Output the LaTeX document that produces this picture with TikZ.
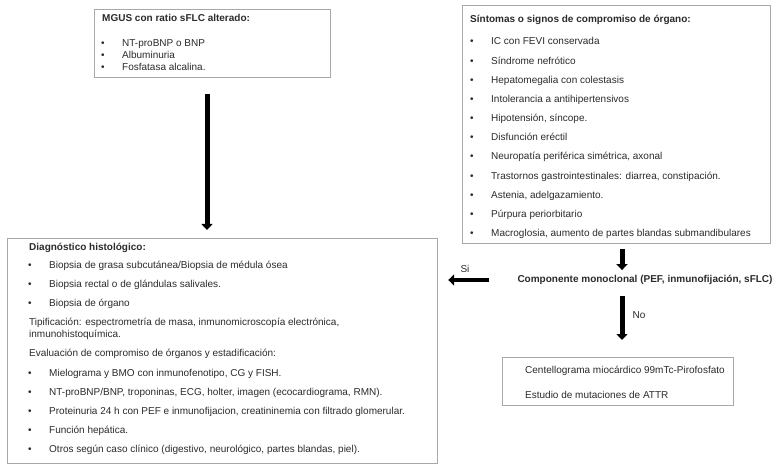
\documentclass[tikz,border=0pt]{standalone}
\usepackage{fontspec}
\setmainfont{Liberation Sans}
\usetikzlibrary{arrows.meta}
\definecolor{txt}{HTML}{2B2B2B}
\definecolor{frame}{HTML}{A8A8A8}
\begin{document}
\begin{tikzpicture}[x=1pt,y=-1pt,
  box/.style={draw=frame,line width=1.2pt,rectangle,inner sep=0pt,anchor=north west},
  t/.style={anchor=base west,inner sep=0pt,font=\fontsize{10}{12}\selectfont,text=txt},
  tb/.style={t,font=\fontsize{10}{12}\selectfont\bfseries},
  bigarrow/.style={draw=black,line width=5pt,-{Triangle[width=11pt,length=6pt]}},
]
\useasboundingbox[fill=white] (0,0) rectangle (777,465);

% boxes
\node[box,minimum width=236pt,minimum height=68pt] (mgus) at (94,9) {};
\node[box,minimum width=308pt,minimum height=238pt] (sym) at (462,5) {};
\node[box,minimum width=430pt,minimum height=225pt] (diag) at (7,238) {};
\node[box,minimum width=231pt,minimum height=48pt] (atr) at (502,357) {};

% MGUS box text
\node[tb] (m0) at (102,21.5) {MGUS con ratio sFLC alterado:};
\foreach \y/\s [count=\i] in {43/NT-proBNP o BNP,55/Albuminuria,67/Fosfatasa alcalina.}{
  \node[t] (mb\i) at (101,\y+3.5) {\textbullet};
  \node[t] (mt\i) at (122,\y+3.5) {\s};
}

% symptoms box text
\node[tb] (s0) at (470,22.5) {Síntomas o signos de compromiso de órgano:};
\foreach \y/\s [count=\i] in {
  41/IC con FEVI conservada,
  61/Síndrome nefrótico,
  80/Hepatomegalia con colestasis,
  99/Intolerancia a antihipertensivos,
  118/{Hipotensión, síncope.},
  137/Disfunción eréctil,
  156/{Neuropatía periférica simétrica, axonal},
  176/{Trastornos gastrointestinales: diarrea, constipación.},
  195/{Astenia, adelgazamiento.},
  214/Púrpura periorbitario,
  233/{Macroglosia, aumento de partes blandas submandibulares}}{
  \node[t] (sb\i) at (470,\y+3.5) {\textbullet};
  \node[t] (st\i) at (491,\y+3.5) {\s};
}

% diagnostic box text
\node[tb] (d0) at (29,250.5) {Diagnóstico histológico:};
\foreach \y/\s [count=\i] in {
  265/{Biopsia de grasa subcutánea/Biopsia de médula ósea},
  284/{Biopsia rectal o de glándulas salivales.},
  303/{Biopsia de órgano}}{
  \node[t] (db\i) at (28,\y+3.5) {\textbullet};
  \node[t] (dt\i) at (49,\y+3.5) {\s};
}
\node[t] (tip1) at (29,325.5) {Tipificación: espectrometría de masa, inmunomicroscopía electrónica,};
\node[t] (tip2) at (29,337.5) {inmunohistoquímica.};
\node[t] (ev) at (29,356.5) {Evaluación de compromiso de órganos y estadificación:};
\foreach \y/\s [count=\i] in {
  373/{Mielograma y BMO con inmunofenotipo, CG y FISH.},
  392/{NT-proBNP/BNP, troponinas, ECG, holter, imagen (ecocardiograma, RMN).},
  411/{Proteinuria 24 h con PEF e inmunofijacion, creatininemia con filtrado glomerular.},
  430/{Función hepática.},
  449/{Otros según caso clínico (digestivo, neurológico, partes blandas, piel).}}{
  \node[t] (eb\i) at (28,\y+3.5) {\textbullet};
  \node[t] (et\i) at (49,\y+3.5) {\s};
}

% ATTR box text
\node[t] (a1) at (525,373.5) {Centellograma miocárdico 99mTc-Pirofosfato};
\node[t] (a2) at (525,398.5) {Estudio de mutaciones de ATTR};

% decision
\node[inner sep=0pt,font=\fontsize{10}{12}\selectfont\bfseries,text=txt] (comp) at (645,280) {Componente monoclonal (PEF, inmunofijación, sFLC)};
\node[inner sep=0pt,font=\fontsize{10}{12}\selectfont,text=txt] (si) at (465,269) {Si};
\node[inner sep=0pt,font=\fontsize{10}{12}\selectfont,text=txt] (no) at (639,315) {No};

% arrows
\coordinate (ax1) at (207,0);
\coordinate (ax2) at (622,0);
\draw[bigarrow,shorten <=16pt,shorten >=8pt] (mgus.south -| ax1) -- (diag.north -| ax1);
\draw[bigarrow,shorten <=5pt,shorten >=5pt] (sym.south -| ax2) -- (comp.north -| ax2);
\draw[bigarrow,shorten <=11pt,shorten >=17pt] (comp.south -| ax2) -- (atr.north -| ax2);
\draw[bigarrow,line width=4pt,shorten <=28pt,shorten >=10pt] (comp.west) -- (diag.east |- comp.west);
\end{tikzpicture}
\end{document}
